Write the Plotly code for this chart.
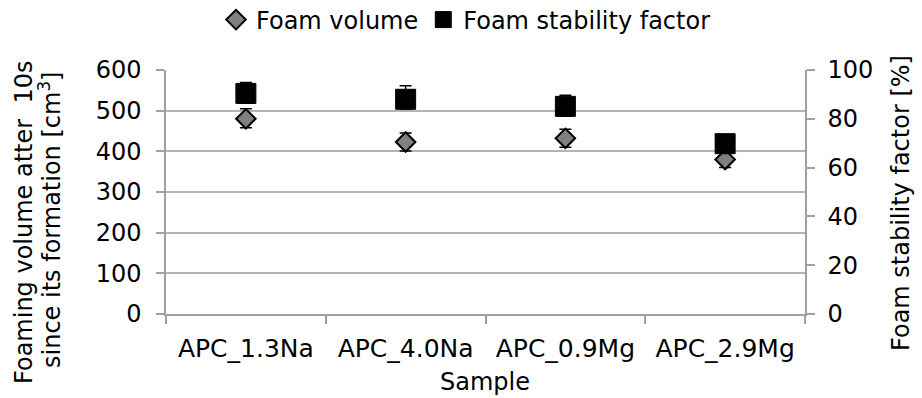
import plotly.graph_objects as go

# ---- data ----
samples = ["APC_1.3Na", "APC_4.0Na", "APC_0.9Mg", "APC_2.9Mg"]
foam_volume = [480, 423, 432, 380]            # cm3, left axis
foam_volume_err_plus = [25, 22, 22, 20]
foam_volume_err_minus = [22, 22, 22, 20]
stability = [90.4, 88, 85.1, 69.8]            # %, right axis
stability_err_plus = [4.5, 5.5, 4.6, 3]
stability_err_minus = [4, 4, 4, 3]

left_ticks = [0, 100, 200, 300, 400, 500, 600]
right_ticks = [0, 20, 40, 60, 80, 100]

# ---- layout constants (pixels) ----
W, H = 922, 398
L, R, T, B = 166, 117, 70, 84
PW, PH = W - L - R, H - T - B
FONT = "DejaVu Sans"
GRID = "#b4b4b4"
AXIS = "#a0a0a0"


def px_x(px):
    return (px - L) / PW


def px_y(py):
    return (H - B - py) / PH


fig = go.Figure()

fig.add_trace(go.Scatter(
    x=samples, y=foam_volume, name="Foam volume", mode="markers",
    marker=dict(symbol="diamond", size=15, color="#808080",
                line=dict(color="black", width=2)),
    error_y=dict(type="data", array=foam_volume_err_plus,
                 arrayminus=foam_volume_err_minus, color="black",
                 thickness=1.5, width=6),
    yaxis="y",
))

fig.add_trace(go.Scatter(
    x=samples, y=stability, name="Foam stability factor", mode="markers",
    marker=dict(symbol="square", size=20, color="black",
                line=dict(color="black", width=1)),
    error_y=dict(type="data", array=stability_err_plus,
                 arrayminus=stability_err_minus, color="black",
                 thickness=1.5, width=6),
    yaxis="y2",
))

fig.update_layout(
    width=W, height=H, autosize=False,
    margin=dict(l=L, r=R, t=T, b=B, pad=0, autoexpand=False),
    paper_bgcolor="white", plot_bgcolor="white",
    font=dict(family=FONT, size=24, color="black"),
    showlegend=True,
    legend=dict(orientation="h", xref="container", yref="container",
                x=(216) / W, xanchor="left",
                y=(H - 20) / H, yanchor="middle",
                font=dict(family=FONT, size=24, color="black"),
                bgcolor="rgba(0,0,0,0)", itemwidth=30),
    xaxis=dict(
        type="category", categoryorder="array", categoryarray=samples,
        range=[-0.5, 3.5], showline=True, linecolor=AXIS, linewidth=1.5,
        ticks="outside", tickson="boundaries", ticklen=8, tickcolor=AXIS,
        tickwidth=1.5, showgrid=False, zeroline=False, automargin=False,
        ticklabelstandoff=11, tickfont=dict(size=25),
    ),
    yaxis=dict(
        range=[0, 600], tickvals=left_ticks, showline=True, linecolor=AXIS,
        linewidth=1.5, ticks="outside", ticklen=8, tickcolor=AXIS,
        tickwidth=1.5, showgrid=True, gridcolor=GRID, gridwidth=1.5,
        zeroline=False, automargin=False, ticklabelstandoff=10,
    ),
    yaxis2=dict(
        range=[0, 100], tickvals=right_ticks, overlaying="y", side="right",
        showline=True, linecolor=AXIS, linewidth=1.5, ticks="outside",
        ticklen=8, tickcolor=AXIS, tickwidth=1.5, showgrid=False,
        zeroline=False, automargin=False, ticklabelstandoff=8,
    ),
)

ann = dict(xref="paper", yref="paper", showarrow=False,
           font=dict(family=FONT, size=24, color="black"))
fig.add_annotation(text="Foaming volume atter&nbsp; 10s", textangle=-90,
                   x=px_x(24), y=px_y(223), xanchor="center", yanchor="middle", **ann)
fig.add_annotation(text="since its formation [cm<sup>3</sup>]", textangle=-90,
                   x=px_x(50), y=px_y(220), xanchor="center", yanchor="middle", **ann)
fig.add_annotation(text="Foam stability factor [%]", textangle=-90,
                   x=px_x(901), y=px_y(203), xanchor="center", yanchor="middle", **ann)
fig.add_annotation(text="Sample", x=px_x(485), y=px_y(382),
                   xanchor="center", yanchor="middle", **ann)

fig.write_html("out.html")
